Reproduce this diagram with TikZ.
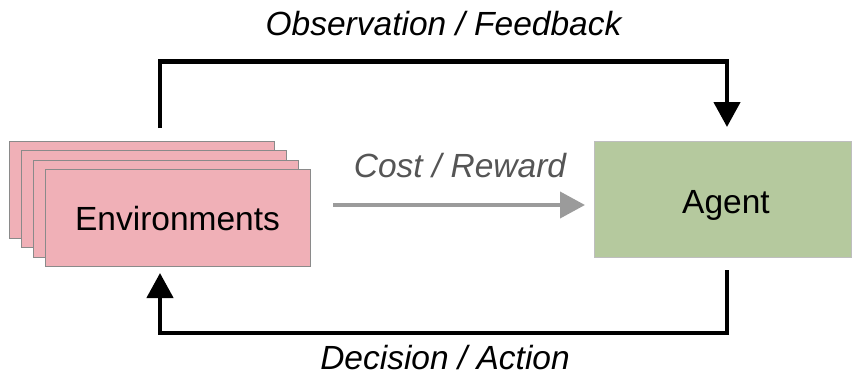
\documentclass[tikz,border=0pt]{standalone}
\usepackage{fontspec}
\setmainfont{Liberation Sans}
\usetikzlibrary{arrows.meta}
\definecolor{envpink}{RGB}{240,176,183}
\definecolor{agentgreen}{RGB}{181,201,158}
\definecolor{envborder}{RGB}{138,138,138}
\definecolor{agentborder}{RGB}{190,190,190}
\definecolor{rewardgray}{RGB}{155,155,155}
\definecolor{rewardtext}{RGB}{85,85,85}
\tikzset{
  envbox/.style={draw=envborder, line width=0.9pt, fill=envpink, minimum width=265pt, minimum height=97pt, inner sep=0pt},
  agentbox/.style={draw=agentborder, line width=0.9pt, fill=agentgreen, minimum width=257pt, minimum height=116pt, inner sep=0pt},
  lbl/.style={font=\fontsize{33.5}{38}\selectfont, inner sep=0pt, anchor=base},
  flow/.style={line width=4.5pt, -{Triangle[length=25pt,width=26pt]}},
  reward/.style={line width=4pt, draw=rewardgray, -{Triangle[length=25pt,width=26pt]}, color=rewardgray}
}
\begin{document}
\begin{tikzpicture}[x=1pt,y=-1pt]
\useasboundingbox (0,0) rectangle (852,376);
% stacked environment cards, back to front
\node[envbox] (env4) at (142,189.5) {};
\node[envbox] (env3) at (154,199) {};
\node[envbox] (env2) at (166,208.5) {};
\node[envbox] (env) at (177.5,218) {};
\node[lbl] (envlabel) at (177.5,230) {Environments};
% agent
\node[agentbox] (agent) at (722.5,199) {};
\node[lbl] (agentlabel) at (726,213) {Agent};
% loop end points
\coordinate (obsStart) at (160,128);
\coordinate (obsEnd) at (727,127);
\coordinate (actStart) at (727,270);
\coordinate (actEnd) at (160,273);
\coordinate (rewStart) at (333,205);
\coordinate (rewEnd) at (585,205);
% observation / feedback loop
\draw[flow] (obsStart) -- (obsStart |- 0,61.5) -- (obsEnd |- 0,61.5) -- (obsEnd);
\node[lbl] (obslabel) at (443.5,35) {\itshape Observation / Feedback};
% decision / action loop
\draw[flow] (actStart) -- (actStart |- 0,333) -- (actEnd |- 0,333) -- (actEnd);
\node[lbl] (actlabel) at (445,369) {\itshape Decision / Action};
% cost / reward
\draw[reward] (rewStart) -- (rewEnd);
\node[lbl, text=rewardtext] (rewlabel) at (460,177) {\itshape Cost / Reward};
\end{tikzpicture}
\end{document}
